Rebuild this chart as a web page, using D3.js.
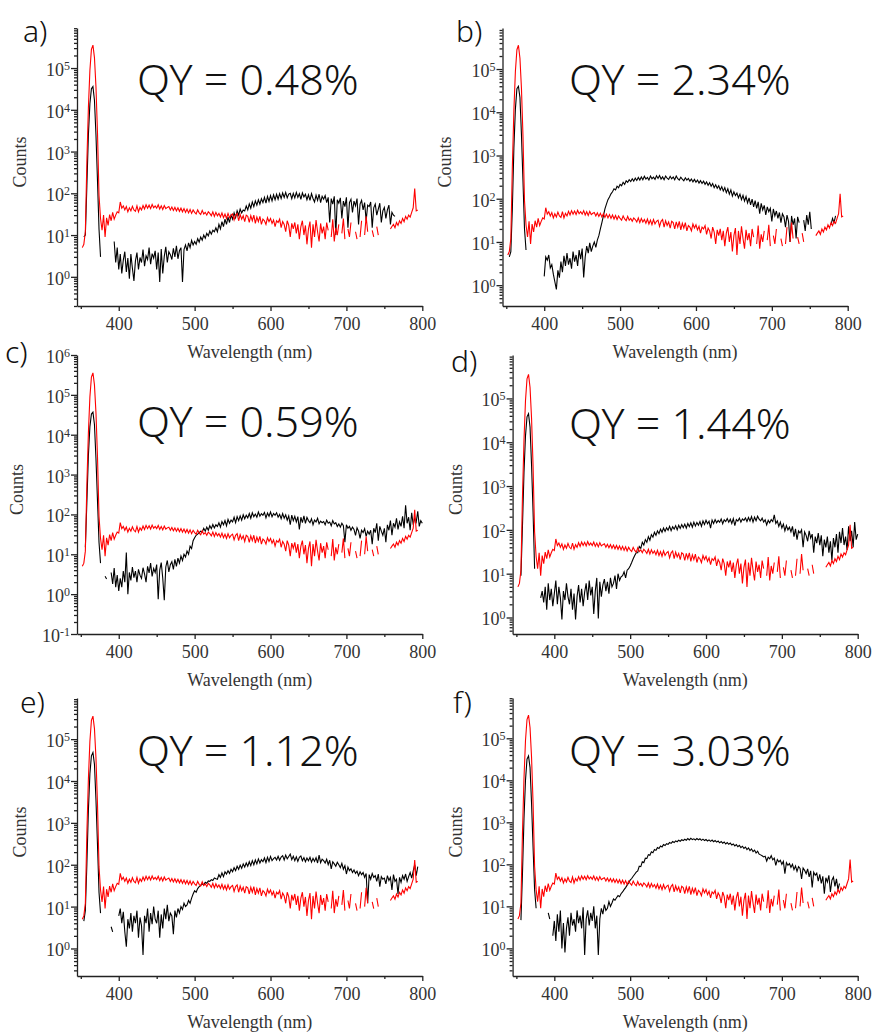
<!DOCTYPE html>
<html><head><meta charset="utf-8">
<script src="https://cdn.jsdelivr.net/npm/d3@7"></script>
<style>
body{margin:0;background:#fff;}
svg{display:block;}
</style></head><body>
<svg id="chart" width="874" height="1034"></svg>
<script>
// ---------------- DATA ----------------
const wavelength = [
350,352,354,356,358,360,362,364,366,368,
370,372,374,376,378,380,382,384,386,388,
390,392,394,396,398,400,402,404,406,408,
410,412,414,416,418,420,422,424,426,428,
430,432,434,436,438,440,442,444,446,448,
450,452,454,456,458,460,462,464,466,468,
470,472,474,476,478,480,482,484,486,488,
490,492,494,496,498,500,502,504,506,508,
510,512,514,516,518,520,522,524,526,528,
530,532,534,536,538,540,542,544,546,548,
550,552,554,556,558,560,562,564,566,568,
570,572,574,576,578,580,582,584,586,588,
590,592,594,596,598,600,602,604,606,608,
610,612,614,616,618,620,622,624,626,628,
630,632,634,636,638,640,642,644,646,648,
650,652,654,656,658,660,662,664,666,668,
670,672,674,676,678,680,682,684,686,688,
690,692,694,696,698,700,702,704,706,708,
710,712,714,716,718,720,722,724,726,728,
730,732,734,736,738,740,742,744,746,748,
750,752,754,756,758,760,762,764,766,768,
770,772,774,776,778,780,782,784,786,788,
790,792,794,796,798,800];

// red: reference (blank) spectrum, same in every panel
const blankCounts = [
null,5,6,12,560,11000,89000,280000,355000,178000,
35000,2800,90,25,13,30,9,26,17,31,
22,35,24,30,36,34,62,44,50,40,
48,36,45,38,49,40,37,50,36,46,
40,51,42,53,44,52,43,54,45,50,
44,53,42,50,41,51,43,46,48,40,
47,39,46,38,45,37,44,36,43,35,
42,34,41,33,40,35,32,40,34,31,
39,32,35,30,36,33,29,36,28,35,
29,33,27,34,26,32,25,33,26,30,
32,23,30,33,22,31,24,29,21,30,
28,20,29,22,30,19,27,21,28,18,
24,22,18,26,21,25,19,23,16,22,
20,24,15,21,18,12,22,17,9,19,
14,20,11,18,8,16,22,10,17,6,
14,21,5,18,9,23,12,7,19,11,
16,8,20,13,null,9,24,7,15,10,
18,null,11,25,8,null,14,9,20,null,
null,12,8,null,9,22,null,10,28,12,
null,null,13,9,null,16,10,null,null,11,
null,null,null,null,14,16,18,15,20,17,
22,19,25,21,28,24,30,27,35,45,
130,38,40,null,null,null];

// black: sample spectra, one per panel
const sampleA = [
null,null,9,10,150,2500,14000,32000,36000,17000,
2500,200,14,3,null,null,null,null,null,null,
null,null,7,2.2,5,1.5,3.5,1.2,2.5,4,
1.3,2.8,0.9,3.5,1.6,0.8,2.4,3.8,1.5,2.9,
2.2,4.5,1.8,3.2,2.6,5,2,3.6,2.8,4.2,
1.5,3.8,0.75,4.6,1.2,3.1,5.2,2.2,4,3.4,
2.6,4.8,3,5.5,2.7,4.2,5,0.75,4.5,5.8,
4.2,6.5,5,7.5,5.8,7,6,8.2,6.8,9,
7.5,10,8.4,11,9.5,12.5,10.5,13,12,15,
12,18,14,21,16,24,18,27,20,30,
24,34,26,38,30,42,34,40,38,50,
40,56,44,62,48,66,52,70,55,74,
60,80,58,84,64,88,66,92,70,95,
72,98,75,102,80,105,78,96,100,74,
100,78,105,80,98,72,102,82,95,70,
92,68,98,75,62,90,68,95,60,85,
72,88,60,80,20,75,55,85,10,70,
58,78,25,65,48,80,15,60,72,35,
65,50,75,18,55,68,40,60,22,52,
48,62,15,45,55,30,42,58,20,38,
46,25,40,52,18,35,30,28,null,null,
null,null,null,null,null,null,null,null,null,null,
null,null,null,null,null,null];

const sampleB = [
null,null,4.5,6,60,1500,12000,35000,40000,22000,
3000,250,20,6.5,null,null,null,null,null,null,
null,null,null,null,null,1.6,4.5,3.8,5,2.5,
3,1.8,1.2,0.8,2.2,1.5,3.5,2,4.8,2.8,
5.5,3,4.2,2.4,6,3.5,5,2.8,6.5,4,
7,1.5,4.5,8,5.5,9.5,6,8,10,7.5,
11,14,20,28,40,58,75,95,110,130,
145,170,160,195,180,215,200,240,215,260,
240,275,250,290,255,300,265,310,270,320,
275,330,285,310,270,335,290,315,280,340,
295,345,285,320,275,335,300,280,330,290,
320,275,335,290,270,315,285,260,305,270,
295,255,285,245,280,240,270,230,262,225,
255,215,245,205,235,195,225,180,210,175,
200,160,190,150,180,138,170,128,160,115,
145,118,135,105,128,95,120,88,112,80,
105,72,98,65,90,60,85,45,78,55,
70,42,65,50,60,30,58,40,52,35,
48,28,45,38,22,42,30,10,40,25,
35,12,38,28,null,null,32,18,42,25,
50,20,null,null,null,null,null,null,null,null,
null,null,null,null,25,35,28,40,null,null,
null,null,null,null,null,null];

const sampleC = [
null,null,null,15,200,3000,16000,33000,37000,18000,
2500,220,20,6,null,null,2.8,2.4,null,null,
3.5,1.8,4.5,1.5,3,1.2,2.5,1.5,3.8,2,
11,1,3.5,2.2,4.8,2.6,3.8,2,4.2,3,
2.5,4.6,3.2,2,5,3.4,6,2.8,4.4,3.5,
5.5,0.75,4,6.2,2.5,0.7,4.8,7,3.6,5.5,
6.5,4.2,7.5,5,8,6,9,7,10,8.5,
12,10,16,14,22,26,30,32,35,38,
36,45,38,48,40,52,44,56,46,55,
50,62,48,66,55,70,52,75,60,72,
65,85,62,88,70,92,72,98,78,95,
82,105,80,110,88,102,85,115,90,105,
95,112,82,108,90,115,88,106,95,110,
85,100,78,105,80,98,72,92,55,96,
70,90,65,88,42,85,62,92,60,84,
70,62,78,55,72,65,80,58,68,62,
66,55,72,60,64,52,70,58,62,50,
58,48,60,52,20,55,45,50,40,48,
42,30,46,38,25,40,35,44,28,38,
32,40,18,45,35,60,22,50,38,30,
45,20,55,40,70,30,60,48,80,42,
65,50,90,45,170,60,85,40,110,55,
80,65,120,50,70,60];

const sampleD = [
null,null,null,9,120,2000,14000,38000,45000,22000,
3000,250,13,null,null,null,2.8,4,2.2,5,
1.5,6,2.5,4.5,1.8,3.5,7,2,5,2.8,
0.9,4,2.5,6,3,2,4.5,1.5,3.5,0.9,
3,5.5,2.2,4.5,1.8,3.8,6,2.5,7,3.2,
5,1.2,4,8,0.95,6.5,3,5.5,7.5,4,
6.5,3.5,8,5,6,9,4.5,10,7,8.5,
9,11,8,12,13,15,18,22,26,30,
30,42,38,52,45,60,52,70,58,78,
68,88,75,95,82,104,88,110,92,112,
98,120,96,118,104,125,100,128,108,132,
112,135,110,140,118,145,115,150,122,148,
128,155,120,160,132,165,138,158,110,168,
140,172,145,165,150,178,138,170,155,182,
150,175,140,180,125,172,158,185,150,178,
165,188,155,192,160,200,150,195,162,205,
175,160,185,150,170,130,165,145,172,155,
220,140,160,120,150,110,135,95,125,100,
115,90,120,70,105,60,95,85,100,40,
90,75,55,95,65,80,30,70,50,85,
45,75,25,60,40,70,30,55,20,65,
40,80,30,90,50,110,45,70,35,120,
55,95,40,150,60,80];

const sampleE = [
null,null,4.5,8,100,2000,15000,40000,48000,25000,
3500,300,22,7,null,null,null,null,null,null,
3.3,2.5,null,null,null,6,9,4,7.5,2.5,
1.1,5,3,7,2.5,6,4,8,1.8,5.5,
3.5,0.7,6,4,9,2.5,7,3.8,10,5,
4,8,1.8,6.5,3,9,5,11,4.5,7,
6,2.2,8,5.5,9,7,10,8.5,12,10,
11,14,12,16,20,24,22,27,30,32,
35,33,38,36,41,40,44,42,48,46,
45,58,50,64,52,68,60,72,62,78,
68,85,72,92,78,98,82,105,88,110,
92,118,95,125,100,130,105,138,110,132,
118,145,112,150,120,158,125,140,150,130,
160,128,152,165,130,170,138,158,180,132,
160,125,155,120,150,162,125,148,118,145,
125,150,115,142,120,148,110,170,112,135,
125,110,135,100,128,80,118,105,92,115,
100,85,108,78,95,60,88,72,80,65,
75,62,70,55,68,58,65,50,62,12,
58,45,62,50,55,40,60,30,52,45,
48,35,55,42,50,25,58,40,45,20,
50,38,55,45,60,40,52,65,48,70,
100,55,90,null,null,null];

const sampleF = [
null,null,null,4.7,60,1200,10000,32000,38000,20000,
2800,250,25,9,null,null,null,null,null,null,
null,7,5,null,2,4.5,1.5,6.5,2.5,8,
1,4,0.8,3,5.5,2,7,3.5,5,2.5,
8,4,6,3,9.5,0.7,5,8,3.5,7,
4.5,10,3,6,0.7,5,9,6.5,11,8,
9,13,10,12,15,14,16,18,17,20,
22,25,28,32,36,42,46,52,58,65,
70,90,88,115,110,140,138,170,165,200,
190,225,215,250,238,272,260,295,280,310,
298,330,315,348,330,362,345,375,355,385,
368,395,375,410,380,415,388,405,380,412,
385,405,372,398,368,390,360,382,352,378,
345,368,338,358,325,350,318,340,305,330,
300,320,288,305,275,295,262,282,250,270,
240,258,225,245,212,232,200,218,185,205,
175,168,160,150,155,120,148,135,160,128,
140,95,130,115,125,100,118,60,110,95,
105,85,100,75,92,68,88,80,45,82,
72,60,78,50,70,28,65,55,62,40,
58,35,52,20,48,38,55,22,42,50,
30,45,25,35,null,null,null,null,null,null,
null,null,null,null,null,null];

const panelLetters = ["a)", "b)", "c)", "d)", "e)", "f)"];
const qyLabels = ["QY = 0.48%", "QY = 2.34%", "QY = 0.59%", "QY = 1.44%", "QY = 1.12%", "QY = 3.03%"];
const sampleSeries = [sampleA, sampleB, sampleC, sampleD, sampleE, sampleF];
const xMajorTicks = [400, 500, 600, 700, 800];
const xMinorTicks = [350, 450, 550, 650, 750];
const yMinorMultipliers = [2, 3, 4, 5, 6, 7, 8, 9];
const xLabel = "Wavelength (nm)";
const yLabel = "Counts";

// ---------------- LAYOUT ----------------
const layout = [
  {left:77,    right:422.3, top:28,  bottom:306, yMin:0.2,  yMax:9.1e5, exps:[0,1,2,3,4,5],      letter:[23,42],   qy:[137,95],  countsX:26},
  {left:502.5, right:847.7, top:28,  bottom:306, yMin:0.33, yMax:8.9e5, exps:[0,1,2,3,4,5],      letter:[456,42],  qy:[569,95],  countsX:451},
  {left:77,    right:422.3, top:355, bottom:634, yMin:0.1,  yMax:1e6,   exps:[-1,0,1,2,3,4,5,6], letter:[5,363],   qy:[137,437], countsX:23},
  {left:512.6, right:857.7, top:355, bottom:634, yMin:0.42, yMax:9.8e5, exps:[0,1,2,3,4,5],      letter:[451,372], qy:[569,439], countsX:462},
  {left:77,    right:422.3, top:698, bottom:976, yMin:0.22, yMax:9.6e5, exps:[0,1,2,3,4,5],      letter:[20,713],  qy:[137,766], countsX:26},
  {left:512.6, right:857.7, top:698, bottom:976, yMin:0.22, yMax:9.1e5, exps:[0,1,2,3,4,5],      letter:[453,713], qy:[569,766], countsX:462}
];

const svg = d3.select("#chart");
const serif = "'Liberation Serif','Times New Roman',serif";
const sans = "'Noto Sans','Open Sans',sans-serif";
const axisColor = "#222";
const textColor = "#333";

layout.forEach((L, i) => {
  const g = svg.append("g");
  const x = d3.scaleLinear().domain([345, 800]).range([L.left, L.right]);
  const y = d3.scaleLog().domain([L.yMin, L.yMax]).range([L.bottom, L.top]);

  // x axis
  const gx = g.append("g").attr("transform", `translate(0,${L.bottom})`)
    .call(d3.axisBottom(x).tickValues(xMajorTicks).tickSize(5).tickSizeOuter(0).tickPadding(5).tickFormat(d3.format("d")));
  g.append("g").attr("transform", `translate(0,${L.bottom})`)
    .call(d3.axisBottom(x).tickValues(xMinorTicks).tickSize(3).tickSizeOuter(0).tickFormat(""))
    .select(".domain").remove();
  gx.selectAll("text").style("font-family", serif).attr("font-size", 18).attr("fill", textColor).attr("dy", "0.75em");

  // y axis
  const majors = L.exps.map(e => Math.pow(10, e));
  const minors = [];
  for (let e = Math.floor(Math.log10(L.yMin)); e <= Math.ceil(Math.log10(L.yMax)); e++) {
    yMinorMultipliers.forEach(m => {
      const v = m * Math.pow(10, e);
      if (v >= L.yMin && v <= L.yMax) minors.push(v);
    });
  }
  g.append("g").attr("transform", `translate(${L.left},0)`)
    .call(d3.axisLeft(y).tickValues(majors).tickSize(6).tickSizeOuter(0).tickFormat(""));
  g.append("g").attr("transform", `translate(${L.left},0)`)
    .call(d3.axisLeft(y).tickValues(minors).tickSize(3).tickSizeOuter(0).tickFormat(""))
    .select(".domain").remove();
  // y tick labels with superscripts
  L.exps.forEach(e => {
    const t = g.append("text")
      .attr("x", L.left - 7).attr("y", y(Math.pow(10, e)) + 8)
      .attr("text-anchor", "end").style("font-family", serif).attr("fill", textColor);
    t.append("tspan").attr("font-size", 18).text("10");
    t.append("tspan").attr("font-size", 12).attr("dy", -6).text(String(e));
  });
  g.selectAll(".domain, .tick line").attr("stroke", axisColor).attr("stroke-width", 1.3);

  // axis titles
  g.append("text").attr("x", (L.left + L.right) / 2).attr("y", L.bottom + 52)
    .attr("text-anchor", "middle").style("font-family", serif).attr("font-size", 18)
    .attr("fill", textColor).text(xLabel);
  g.append("text").attr("transform", `translate(${L.countsX},${(L.top + L.bottom) / 2 - 5}) rotate(-90)`)
    .attr("text-anchor", "middle").style("font-family", serif).attr("font-size", 18)
    .attr("fill", textColor).text(yLabel);

  // spectra
  const line = d3.line()
    .defined(d => d[1] != null && d[1] > 0)
    .x(d => x(d[0])).y(d => y(d[1]));
  const sample = wavelength.map((w, k) => [w, sampleSeries[i][k]]);
  const blank = wavelength.map((w, k) => [w, blankCounts[k]]);
  g.append("path").datum(sample).attr("d", line)
    .attr("fill", "none").attr("stroke", "#000").attr("stroke-width", 1.1);
  g.append("path").datum(blank).attr("d", line)
    .attr("fill", "none").attr("stroke", "#ff0000").attr("stroke-width", 1.1);

  // labels
  g.append("text").attr("x", L.letter[0]).attr("y", L.letter[1])
    .style("font-family", sans).attr("font-weight", 300).attr("font-size", 30).attr("fill", "#111")
    .text(panelLetters[i]);
  g.append("text").attr("x", L.qy[0]).attr("y", L.qy[1])
    .style("font-family", sans).attr("font-weight", 300).attr("font-size", 43).attr("fill", "#111")
    .text(qyLabels[i]);
});
</script>
</body></html>
